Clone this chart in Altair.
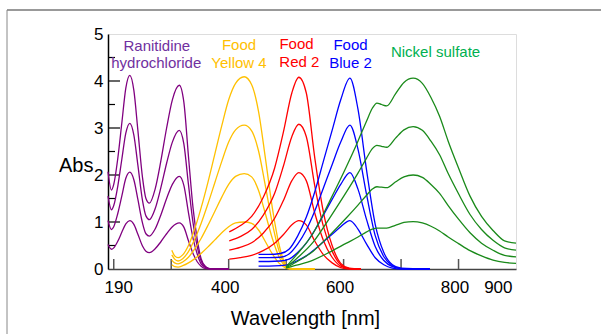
import altair as alt
import pandas as pd

# ---------------- data ----------------
# Ranitidine hydrochloride
RAN_NM = [190, 196, 200, 207, 214, 221, 228, 235, 242, 250, 256, 262, 272, 282, 292, 302, 314, 322, 330, 338, 345, 352, 360, 370, 400]
RAN_4 = [2.07, 1.68, 1.80, 2.35, 3.10, 3.85, 4.12, 3.80, 2.95, 1.95, 1.50, 1.40, 1.70, 2.30, 3.00, 3.60, 3.91, 3.55, 2.40, 1.30, 0.65, 0.22, 0.05, 0.0, 0.0]
RAN_3 = [1.55, 1.26, 1.35, 1.76, 2.33, 2.89, 3.10, 2.85, 2.21, 1.46, 1.13, 1.05, 1.28, 1.73, 2.25, 2.70, 2.95, 2.66, 1.80, 0.98, 0.49, 0.17, 0.04, 0.0, 0.0]
RAN_2 = [1.03, 0.84, 0.90, 1.18, 1.55, 1.93, 2.06, 1.90, 1.48, 0.98, 0.75, 0.70, 0.85, 1.15, 1.50, 1.80, 1.97, 1.78, 1.20, 0.65, 0.33, 0.11, 0.03, 0.0, 0.0]
RAN_1 = [0.52, 0.42, 0.45, 0.59, 0.78, 0.96, 1.03, 0.95, 0.74, 0.49, 0.38, 0.35, 0.43, 0.58, 0.75, 0.90, 0.98, 0.89, 0.60, 0.33, 0.16, 0.06, 0.01, 0.0, 0.0]

# Food Yellow 4
YEL_NM = [301, 306, 312, 320, 330, 340, 352, 364, 376, 388, 400, 412, 427, 440, 452, 464, 476, 488, 498, 506, 520, 550]
YEL_4 = [0.40, 0.28, 0.24, 0.30, 0.50, 0.82, 1.30, 1.85, 2.45, 3.05, 3.60, 3.95, 4.09, 3.92, 3.35, 2.35, 1.30, 0.50, 0.12, 0.02, 0.0, 0.0]
YEL_3 = [0.30, 0.21, 0.17, 0.22, 0.37, 0.61, 0.97, 1.39, 1.84, 2.29, 2.70, 2.96, 3.06, 2.94, 2.51, 1.76, 0.97, 0.37, 0.09, 0.01, 0.0, 0.0]
YEL_2 = [0.19, 0.13, 0.11, 0.15, 0.25, 0.41, 0.65, 0.93, 1.23, 1.53, 1.80, 1.97, 2.03, 1.96, 1.67, 1.17, 0.65, 0.25, 0.06, 0.01, 0.0, 0.0]
YEL_1 = [0.09, 0.05, 0.04, 0.07, 0.13, 0.21, 0.33, 0.47, 0.62, 0.77, 0.90, 0.98, 1.00, 0.97, 0.83, 0.58, 0.32, 0.12, 0.03, 0.0, 0.0, 0.0]

# Food Red 2
RED_NM = [401, 420, 440, 460, 480, 495, 510, 522, 535, 550, 565, 580, 595, 610, 630]
RED_4 = [0.79, 0.92, 1.12, 1.52, 2.15, 2.90, 3.75, 4.08, 3.75, 2.35, 1.20, 0.50, 0.12, 0.02, 0.0]
RED_3 = [0.60, 0.69, 0.84, 1.14, 1.61, 2.18, 2.82, 3.08, 2.82, 1.76, 0.90, 0.38, 0.09, 0.01, 0.0]
RED_2 = [0.40, 0.46, 0.56, 0.76, 1.08, 1.45, 1.88, 2.05, 1.88, 1.18, 0.60, 0.25, 0.06, 0.01, 0.0]
RED_1 = [0.21, 0.24, 0.29, 0.39, 0.55, 0.73, 0.94, 1.03, 0.94, 0.59, 0.30, 0.13, 0.03, 0.0, 0.0]

# Food Blue 2
BLU_NM = [452, 470, 490, 505, 520, 535, 550, 565, 580, 595, 611, 625, 640, 655, 670, 685, 700, 750]
BLU_4 = [0.31, 0.31, 0.33, 0.42, 0.70, 1.10, 1.65, 2.30, 2.95, 3.60, 4.06, 3.40, 2.10, 0.95, 0.35, 0.09, 0.02, 0.0]
BLU_3 = [0.24, 0.24, 0.25, 0.32, 0.53, 0.83, 1.24, 1.73, 2.22, 2.70, 3.06, 2.55, 1.58, 0.71, 0.26, 0.07, 0.01, 0.0]
BLU_2 = [0.16, 0.16, 0.17, 0.21, 0.35, 0.55, 0.83, 1.15, 1.48, 1.80, 2.05, 1.70, 1.05, 0.48, 0.18, 0.05, 0.01, 0.0]
BLU_1 = [0.06, 0.06, 0.07, 0.10, 0.18, 0.28, 0.42, 0.58, 0.74, 0.90, 1.03, 0.85, 0.53, 0.24, 0.09, 0.02, 0.0, 0.0]

# Nickel sulfate
NIC_NM = [500, 518, 547, 576, 605, 625, 640, 650, 658, 666, 675, 690, 705, 721, 737, 752, 767, 782, 800, 820, 840, 860, 880, 900]
NIC_4 = [0.05, 0.30, 0.76, 1.45, 2.18, 2.72, 3.15, 3.42, 3.53, 3.50, 3.47, 3.72, 3.97, 4.06, 3.95, 3.65, 3.25, 2.72, 2.15, 1.55, 1.12, 0.82, 0.60, 0.55]
NIC_3 = [0.04, 0.22, 0.57, 1.09, 1.64, 2.04, 2.36, 2.56, 2.63, 2.61, 2.59, 2.78, 2.96, 3.03, 2.95, 2.72, 2.43, 2.03, 1.60, 1.16, 0.84, 0.61, 0.45, 0.40]
NIC_2 = [0.03, 0.15, 0.38, 0.72, 1.09, 1.36, 1.57, 1.70, 1.75, 1.74, 1.73, 1.85, 1.96, 2.00, 1.95, 1.80, 1.61, 1.35, 1.06, 0.77, 0.55, 0.40, 0.29, 0.26]
NIC_1 = [0.02, 0.08, 0.19, 0.36, 0.55, 0.68, 0.79, 0.85, 0.87, 0.87, 0.87, 0.93, 0.99, 1.01, 0.98, 0.91, 0.81, 0.68, 0.54, 0.39, 0.28, 0.19, 0.14, 0.12]

# annotations
ANN_TEXT = ["Ranitidine", "hydrochloride", "Food", "Yellow 4", "Food", "Red 2", "Food", "Blue 2", "Nickel sulfate"]
ANN_NM = [275, 274, 418, 418, 518, 523, 612, 612, 760]
ANN_ABS = [4.75, 4.38, 4.77, 4.38, 4.79, 4.41, 4.77, 4.39, 4.61]
ANN_COLOR = ["#7030A0", "#7030A0", "#FFC000", "#FFC000", "#FF0000", "#FF0000", "#0000FF", "#0000FF", "#00B050"]

X_LABELS = [190, 400, 600, 800, 900]
X_TICKS = [200, 300, 400, 500, 600, 700, 800]
Y_LABELS = [0, 1, 2, 3, 4, 5]
Y_MAJOR = [1, 2, 3, 4]
Y_MINOR = [0.5, 1.5, 2.5, 3.5, 4.5]

SUBSTANCES = [
    ("ran", RAN_NM, [RAN_4, RAN_3, RAN_2, RAN_1], "#800080"),
    ("yel", YEL_NM, [YEL_4, YEL_3, YEL_2, YEL_1], "#FFC000"),
    ("red", RED_NM, [RED_4, RED_3, RED_2, RED_1], "#FF0000"),
    ("blu", BLU_NM, [BLU_4, BLU_3, BLU_2, BLU_1], "#0000FF"),
    ("nic", NIC_NM, [NIC_4, NIC_3, NIC_2, NIC_1], "#1A8A1A"),
]

# ---------------- chart ----------------
W, H = 408, 235
FONT = "Liberation Sans"

xs = alt.Scale(domain=[190, 900], nice=False, zero=False)
ys = alt.Scale(domain=[0, 5], nice=False)

xaxis = alt.Axis(
    values=X_LABELS, title="Wavelength [nm]", ticks=False, tickSize=0,
    labelFontSize=17, labelFont=FONT, labelColor="#000", labelPadding=10,
    labelFlush=True, labelOffset=-4, grid=False,
    domainColor="#444", domainWidth=1.5,
    titleFontSize=20, titleFont=FONT, titleFontWeight="normal", titleColor="#000",
    titleX=197, titleY=49, titleBaseline="middle", titleAnchor="start", titleAlign="center",
)
yaxis = alt.Axis(
    values=Y_LABELS, title="Abs", ticks=False, tickSize=0,
    labelFontSize=17, labelFont=FONT, labelColor="#000", labelPadding=5,
    grid=False, domainColor="#000", domainWidth=1.5,
    titleFontSize=20, titleFont=FONT, titleFontWeight="normal", titleColor="#000",
    titleAngle=0, titleAlign="right", titleBaseline="middle", titleX=-15, titleY=131,
)

def X(field):
    return alt.X(field, type="quantitative", scale=xs, axis=xaxis, title="Wavelength [nm]")

def Y(field):
    return alt.Y(field, type="quantitative", scale=ys, axis=yaxis, title="Abs")

layers = []

# inward ticks
xt = alt.Chart(pd.DataFrame({"t": X_TICKS})).mark_rule(color="#555", strokeWidth=1.5).encode(
    x=X("t"), y=alt.value(H), y2=alt.value(H - 10))
ymaj = alt.Chart(pd.DataFrame({"t": Y_MAJOR})).mark_rule(color="#000", strokeWidth=1.2).encode(
    y=Y("t"), x=alt.value(0), x2=alt.value(12))
ymin = alt.Chart(pd.DataFrame({"t": Y_MINOR})).mark_rule(color="#000", strokeWidth=1.2).encode(
    y=Y("t"), x=alt.value(0), x2=alt.value(7))
layers += [xt, ymaj, ymin]

for name, nm, curves, col in SUBSTANCES:
    rows = []
    for i, c in enumerate(curves):
        for w, a in zip(nm, c):
            rows.append({"s": f"{name}{i}", "nm": w, "a": a})
    df = pd.DataFrame(rows)
    layers.append(
        alt.Chart(df).mark_line(color=col, strokeWidth=1.3, interpolate="monotone").encode(
            x=X("nm"), y=Y("a"), detail="s:N")
    )

ann = pd.DataFrame({"t": ANN_TEXT, "nm": ANN_NM, "a": ANN_ABS, "c": ANN_COLOR})
layers.append(
    alt.Chart(ann).mark_text(font=FONT, fontSize=15, align="center", baseline="middle").encode(
        x=X("nm"), y=Y("a"), text="t:N", color=alt.Color("c:N", scale=None))
)

# slide-like outer frame (decoration)
one = pd.DataFrame({"k": [0]})
layers.append(alt.Chart(one).mark_rule(color="#999", strokeWidth=2).encode(
    x=alt.value(-101), x2=alt.value(493), y=alt.value(-24)))
layers.append(alt.Chart(one).mark_rule(color="#888", strokeWidth=1).encode(
    x=alt.value(-101), y=alt.value(-24), y2=alt.value(300)))

chart = alt.layer(*layers).properties(
    width=W, height=H,
    autosize=alt.AutoSizeParams(type="none"),
    padding={"left": 108, "top": 34, "right": 85, "bottom": 65},
).configure_view(stroke="#777", strokeWidth=1.5).configure(background="white")

chart.save("out.html", embed_options={"renderer": "svg", "actions": False})
